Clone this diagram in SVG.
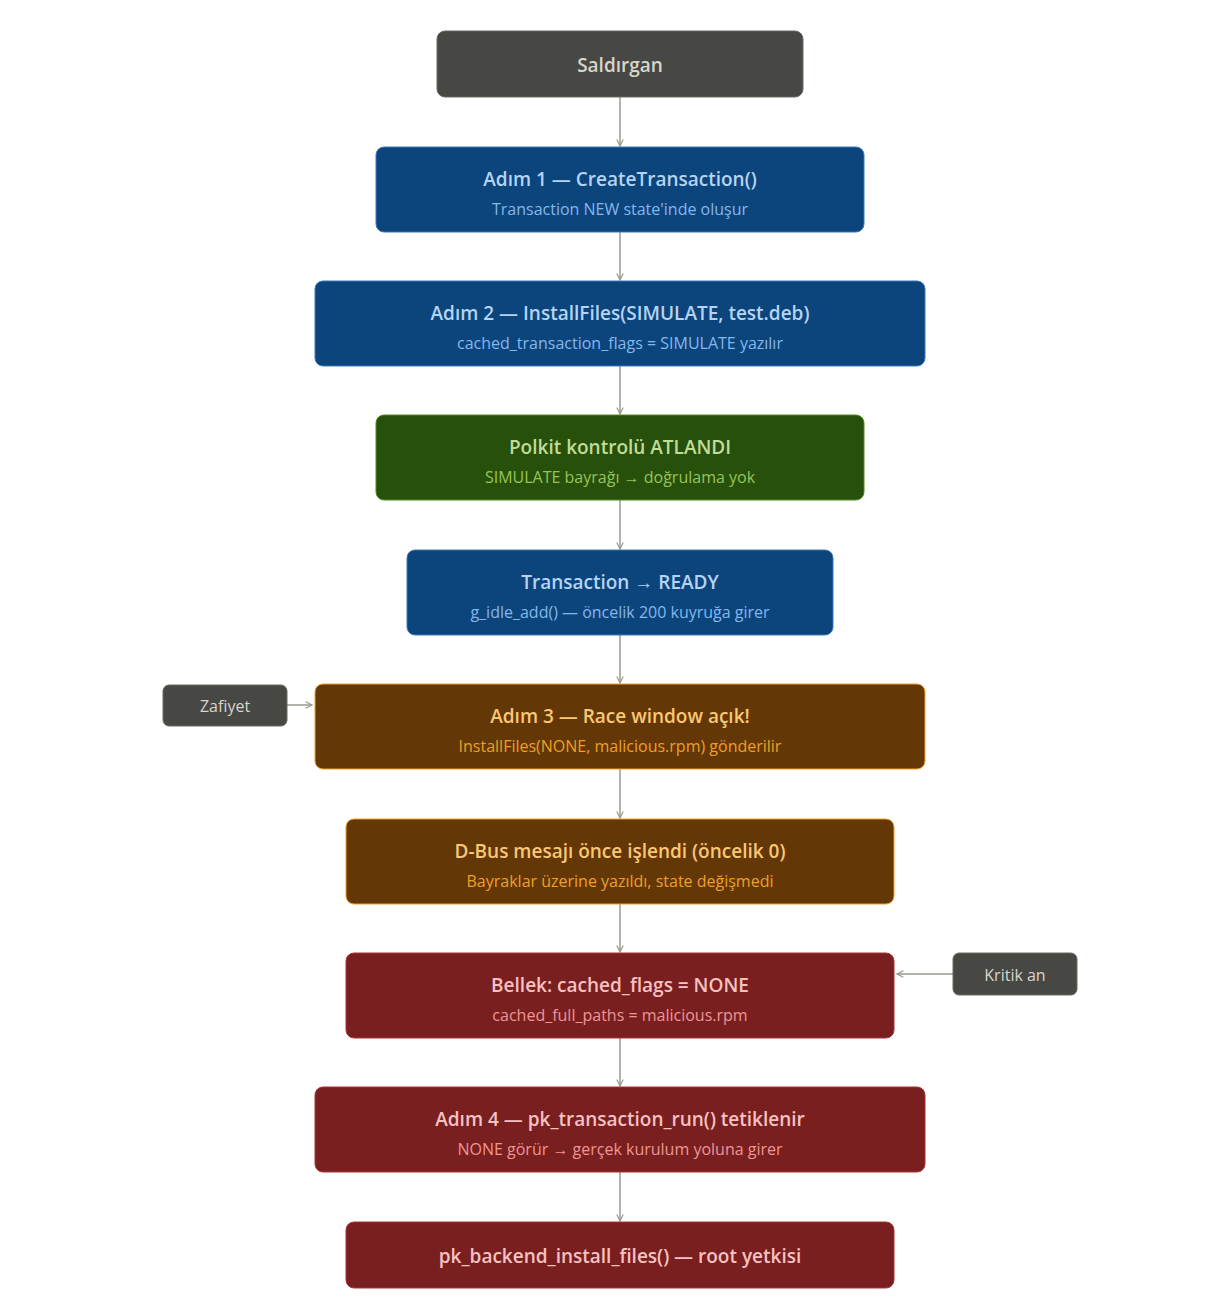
<svg xmlns="http://www.w3.org/2000/svg" width="1226" height="1301" viewBox="0 0 1226 1301">
<style>
text{font-family:"Open Sans","Noto Sans",sans-serif;text-anchor:middle}
.t{font-size:19px;font-weight:600}
.s{font-size:16px}
.g rect{fill:#474743;stroke:#6a6a64;stroke-width:1}
.g text{fill:#d8d6cc}
.b rect{fill:#0c447c;stroke:#3a78bd}
.b .t{fill:#b5d4f4}.b .s{fill:#85b7eb}
.gr rect{fill:#27500a;stroke:#4f8a1e}
.gr .t{fill:#c0dd97}.gr .s{fill:#97c459}
.o rect{fill:#633806;stroke:#ef9f27}
.o .t{fill:#fac775}.o .s{fill:#ef9f27}
.r rect{fill:#791f1f;stroke:#a83535}
.r .t{fill:#f7c1c1}.r .s{fill:#f09595}
.e line{stroke:#9a9890;stroke-width:1.5;marker-end:url(#a)}
</style>
<defs><marker id="a" viewBox="0 0 10 10" refX="9" refY="5" markerWidth="8" markerHeight="8" orient="auto" markerUnits="userSpaceOnUse"><path d="M1 1L9 5L1 9" fill="none" stroke="#9a9890" stroke-width="1.5"/></marker></defs>
<rect width="1226" height="1301" fill="#fff"/>
<g class="e">
<line x1="620" y1="97" x2="620" y2="146"/>
<line x1="620" y1="232" x2="620" y2="280"/>
<line x1="620" y1="366" x2="620" y2="414"/>
<line x1="620" y1="500" x2="620" y2="549"/>
<line x1="620" y1="635" x2="620" y2="683"/>
<line x1="620" y1="769" x2="620" y2="818"/>
<line x1="620" y1="904" x2="620" y2="952"/>
<line x1="620" y1="1038" x2="620" y2="1086"/>
<line x1="620" y1="1172" x2="620" y2="1221"/>
<line x1="287" y1="705" x2="312" y2="705"/>
<line x1="953" y1="974" x2="897" y2="974"/>
</g>
<g id="n0" class="g"><rect x="437" y="31" width="366" height="66" rx="8"/><text class="t" x="620" y="72">Saldırgan</text></g>
<g id="n1" class="b"><rect x="376" y="147" width="488" height="85" rx="8"/><text class="t" x="620" y="186">Adım 1 — CreateTransaction()</text><text class="s" x="620" y="215">Transaction NEW state'inde oluşur</text></g>
<g id="n2" class="b"><rect x="315" y="281" width="610" height="85" rx="8"/><text class="t" x="620" y="320">Adım 2 — InstallFiles(SIMULATE, test.deb)</text><text class="s" x="620" y="349">cached_transaction_flags = SIMULATE yazılır</text></g>
<g id="n3" class="gr"><rect x="376" y="415" width="488" height="85" rx="8"/><text class="t" x="620" y="454">Polkit kontrolü ATLANDI</text><text class="s" x="620" y="483">SIMULATE bayrağı → doğrulama yok</text></g>
<g id="n4" class="b"><rect x="407" y="550" width="426" height="85" rx="8"/><text class="t" x="620" y="589">Transaction → READY</text><text class="s" x="620" y="618">g_idle_add() — öncelik 200 kuyruğa girer</text></g>
<g id="n5" class="o"><rect x="315" y="684" width="610" height="85" rx="8"/><text class="t" x="620" y="723">Adım 3 — Race window açık!</text><text class="s" x="620" y="752">InstallFiles(NONE, malicious.rpm) gönderilir</text></g>
<g id="n6" class="o"><rect x="346" y="819" width="548" height="85" rx="8"/><text class="t" x="620" y="858">D-Bus mesajı önce işlendi (öncelik 0)</text><text class="s" x="620" y="887">Bayraklar üzerine yazıldı, state değişmedi</text></g>
<g id="n7" class="r"><rect x="346" y="953" width="548" height="85" rx="8"/><text class="t" x="620" y="992">Bellek: cached_flags = NONE</text><text class="s" x="620" y="1021">cached_full_paths = malicious.rpm</text></g>
<g id="n8" class="r"><rect x="315" y="1087" width="610" height="85" rx="8"/><text class="t" x="620" y="1126">Adım 4 — pk_transaction_run() tetiklenir</text><text class="s" x="620" y="1155">NONE görür → gerçek kurulum yoluna girer</text></g>
<g id="n9" class="r"><rect x="346" y="1222" width="548" height="66" rx="8"/><text class="t" x="620" y="1263">pk_backend_install_files() — root yetkisi</text></g>
<g id="z" class="g"><rect x="163" y="685" width="124" height="41" rx="6"/><text class="s" x="225" y="712">Zafiyet</text></g>
<g id="k" class="g"><rect x="953" y="953" width="124" height="42" rx="6"/><text class="s" x="1015" y="981">Kritik an</text></g>
</svg>
